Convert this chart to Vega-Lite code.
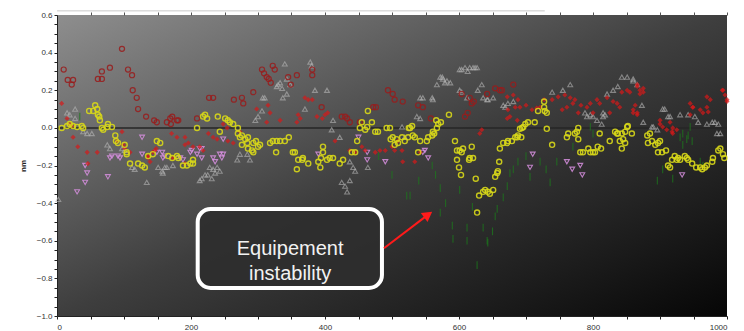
{
  "$schema": "https://vega.github.io/schema/vega-lite/v6.json",
  "width": 670,
  "height": 301,
  "autosize": "none",
  "padding": {"left": 57, "top": 15, "right": 17, "bottom": 15},
  "background": "white",
  "config": {
    "view": {
      "stroke": null,
      "fill": {"gradient": "linear", "x1": 0, "y1": 0, "x2": 1, "y2": 1,
        "stops": [{"offset": 0, "color": "#8e8e8e"}, {"offset": 0.5, "color": "#3e3e3e"}, {"offset": 1, "color": "#060606"}]}
    },
    "axis": {"labelFont": "Liberation Sans", "titleFont": "Liberation Sans", "labelFontSize": 8, "labelColor": "#333333", "grid": false, "domainColor": "#222222", "tickColor": "#222222", "tickSize": 3, "labelPadding": 2}
  },
  "datasets": {
    "one": [{}],
    "darkred": [
      {"x":10,"y":0.31},{"x":16,"y":0.255},{"x":24,"y":0.255},{"x":22,"y":0.23},{"x":97,"y":0.42},{"x":61,"y":0.26},{"x":67,"y":0.30},{"x":67,"y":0.26},{"x":79,"y":0.32},{"x":106,"y":0.31},{"x":112,"y":0.28},{"x":113,"y":0.2},{"x":119,"y":0.16},{"x":121,"y":0.10},{"x":133,"y":0.06},{"x":145,"y":0.04},{"x":149,"y":0.03},{"x":164,"y":0.03},{"x":169,"y":0.05},{"x":170,"y":0.02},{"x":181,"y":0.04},{"x":227,"y":0.16},{"x":233,"y":0.16},{"x":264,"y":0.15},{"x":276,"y":0.16},{"x":278,"y":0.13},{"x":209,"y":0.05},{"x":306,"y":0.31},{"x":309,"y":0.29},{"x":313,"y":0.27},{"x":316,"y":0.26},{"x":319,"y":0.24},{"x":322,"y":0.33},{"x":325,"y":0.31},{"x":293,"y":0.19},{"x":172,"y":0.06},{"x":179,"y":0.04},{"x":345,"y":0.27},{"x":358,"y":0.28},{"x":349,"y":0.23},{"x":381,"y":0.31},{"x":381,"y":0.28},{"x":430,"y":0.06},{"x":433,"y":0.05},{"x":494,"y":0.2},{"x":501,"y":0.18},{"x":504,"y":0.15},{"x":472,"y":0.11},{"x":476,"y":0.11},{"x":395,"y":0.11},{"x":425,"y":0.06},{"x":452,"y":0.03},{"x":437,"y":0.03},{"x":516,"y":0.14},{"x":539,"y":0.12},{"x":546,"y":0.11},{"x":558,"y":0.05},{"x":604,"y":0.18},{"x":616,"y":0.16},{"x":619,"y":0.13},{"x":622,"y":0.14},{"x":642,"y":0.18},{"x":654,"y":0.21},{"x":613,"y":0.08},{"x":609,"y":0.06},{"x":661,"y":0.2},{"x":681,"y":0.23},{"x":664,"y":0.2}
    ],
    "brightred": [
      {"x":7,"y":0.13},{"x":15,"y":0.05},{"x":19,"y":0.02},{"x":22,"y":0.01},{"x":24,"y":-0.05},{"x":31,"y":-0.1},{"x":45,"y":-0.13},{"x":60,"y":-0.13},{"x":97,"y":-0.02},{"x":101,"y":-0.11},{"x":109,"y":-0.13},{"x":136,"y":-0.15},{"x":143,"y":-0.13},{"x":148,"y":-0.11},{"x":171,"y":-0.03},{"x":179,"y":-0.05},{"x":191,"y":-0.05},{"x":196,"y":-0.08},{"x":203,"y":-0.1},{"x":213,"y":-0.1},{"x":226,"y":-0.03},{"x":233,"y":-0.05},{"x":239,"y":-0.06},{"x":248,"y":0.02},{"x":254,"y":0.0},{"x":255,"y":-0.07},{"x":263,"y":-0.08},{"x":273,"y":-0.02},{"x":46,"y":-0.19},{"x":90,"y":-0.07},{"x":99,"y":-0.09},{"x":136,"y":-0.16},{"x":139,"y":-0.18},{"x":146,"y":-0.12},{"x":298,"y":0.1},{"x":315,"y":0.12},{"x":318,"y":0.08},{"x":333,"y":0.04},{"x":313,"y":0.03},{"x":191,"y":-0.09},{"x":173,"y":-0.16},{"x":191,"y":-0.19},{"x":218,"y":-0.12},{"x":370,"y":0.16},{"x":375,"y":0.15},{"x":381,"y":0.15},{"x":360,"y":0.07},{"x":358,"y":0.03},{"x":363,"y":0.05},{"x":400,"y":0.07},{"x":404,"y":0.08},{"x":396,"y":0.05},{"x":388,"y":0.06},{"x":415,"y":-0.07},{"x":455,"y":-0.1},{"x":460,"y":-0.12},{"x":475,"y":-0.13},{"x":482,"y":-0.12},{"x":490,"y":-0.12},{"x":500,"y":-0.1},{"x":504,"y":-0.12},{"x":509,"y":-0.07},{"x":437,"y":-0.12},{"x":445,"y":-0.13},
      {"x":672,"y":0.165},{"x":681,"y":0.175},{"x":688,"y":0.15},{"x":673,"y":0.096},{"x":684,"y":0.11},{"x":691,"y":0.11},{"x":709,"y":0.096},{"x":716,"y":0.106},{"x":721,"y":0.11},{"x":739,"y":0.15},{"x":748,"y":0.165},{"x":758,"y":0.175},{"x":766,"y":0.16},{"x":773,"y":0.15},{"x":754,"y":0.096},{"x":761,"y":0.11},{"x":770,"y":0.13},{"x":791,"y":0.11},{"x":796,"y":0.13},{"x":806,"y":0.15},{"x":810,"y":0.13},{"x":821,"y":0.16},{"x":830,"y":0.14},{"x":836,"y":0.13},{"x":840,"y":0.11},{"x":843,"y":0.19},{"x":851,"y":0.2},{"x":855,"y":0.19},{"x":866,"y":0.22},{"x":870,"y":0.2},{"x":875,"y":0.19},{"x":860,"y":0.096},{"x":866,"y":0.08},{"x":900,"y":0.04},{"x":904,"y":0.005},{"x":910,"y":-0.01},{"x":919,"y":-0.03},{"x":925,"y":-0.01},{"x":945,"y":0.13},{"x":949,"y":0.11},{"x":960,"y":0.096},{"x":964,"y":0.08},{"x":970,"y":0.11},{"x":970,"y":0.165},{"x":975,"y":0.15},{"x":994,"y":0.2},{"x":997,"y":0.175},{"x":1000,"y":0.15},{"x":676,"y":0.06},{"x":687,"y":0.04},{"x":631,"y":-0.03},{"x":634,"y":-0.01},{"x":672,"y":0.05},{"x":515,"y":-0.12},{"x":516,"y":-0.18},{"x":534,"y":-0.18},{"x":542,"y":-0.13},{"x":866,"y":0.23},{"x":875,"y":0.21},{"x":870,"y":0.18},{"x":863,"y":0.12},{"x":866,"y":0.07},{"x":860,"y":0.08},{"x":900,"y":0.02},{"x":918,"y":-0.02},{"x":919,"y":0.0},{"x":915,"y":0.03},{"x":972,"y":0.085},{"x":993,"y":0.2},{"x":1000,"y":0.14},{"x":949,"y":0.11},{"x":945,"y":0.07},{"x":700,"y":0.12},{"x":727,"y":0.15},{"x":782,"y":0.12},{"x":800,"y":0.08},{"x":825,"y":0.08},{"x":778,"y":0.08}
    ],
    "yellow": [
      {"x":7,"y":0},{"x":15,"y":0.01},{"x":19,"y":0.02},{"x":24,"y":0.01},{"x":30,"y":0.005},{"x":37,"y":0.01},{"x":39,"y":0},{"x":48,"y":0.09},{"x":54,"y":0.09},{"x":57,"y":0.12},{"x":60,"y":0.1},{"x":61,"y":0.07},{"x":63,"y":0.06},{"x":64,"y":0.04},{"x":67,"y":0},{"x":69,"y":-0.01},{"x":75,"y":0.005},{"x":76,"y":0.02},{"x":82,"y":0.005},{"x":87,"y":-0.04},{"x":88,"y":-0.07},{"x":91,"y":-0.08},{"x":101,"y":-0.09},{"x":104,"y":-0.13},{"x":104,"y":-0.14},{"x":149,"y":-0.07},{"x":154,"y":-0.08},{"x":109,"y":-0.19},{"x":121,"y":-0.19},{"x":127,"y":-0.2},{"x":131,"y":-0.21},{"x":136,"y":-0.15},{"x":143,"y":-0.14},{"x":166,"y":-0.15},{"x":172,"y":-0.16},{"x":179,"y":-0.15},{"x":181,"y":-0.16},{"x":188,"y":-0.2},{"x":194,"y":-0.2},{"x":199,"y":-0.19},{"x":203,"y":-0.17},{"x":203,"y":-0.19},{"x":209,"y":0},{"x":218,"y":0.06},{"x":224,"y":0.05},{"x":221,"y":0.07},{"x":240,"y":0.06},{"x":251,"y":0.05},{"x":255,"y":0.04},{"x":258,"y":0.03},{"x":263,"y":0.02},{"x":270,"y":0},{"x":273,"y":-0.05},{"x":276,"y":-0.04},{"x":281,"y":-0.06},{"x":284,"y":-0.08},{"x":285,"y":-0.05},{"x":270,"y":-0.03},{"x":243,"y":-0.02},{"x":276,"y":-0.09},{"x":285,"y":-0.11},{"x":291,"y":-0.12},{"x":293,"y":-0.08},{"x":297,"y":-0.07},{"x":300,"y":-0.1},{"x":303,"y":-0.09},{"x":293,"y":-0.13},{"x":318,"y":-0.08},{"x":322,"y":-0.07},{"x":328,"y":-0.07},{"x":333,"y":-0.07},{"x":340,"y":-0.07},{"x":327,"y":-0.13},{"x":346,"y":-0.05},{"x":352,"y":-0.13},{"x":355,"y":-0.13},{"x":360,"y":-0.17},{"x":366,"y":-0.17},{"x":367,"y":-0.16},{"x":375,"y":-0.19},{"x":358,"y":-0.22},{"x":390,"y":-0.18},{"x":393,"y":-0.21},{"x":394,"y":-0.16},{"x":397,"y":-0.13},{"x":397,"y":-0.1},{"x":403,"y":-0.17},{"x":407,"y":-0.16},{"x":412,"y":-0.16},{"x":422,"y":-0.19},{"x":427,"y":-0.17},{"x":440,"y":-0.13},{"x":445,"y":-0.13},{"x":448,"y":-0.07},{"x":464,"y":0.09},{"x":470,"y":0.03},{"x":455,"y":0.03},{"x":460,"y":-0.01},{"x":452,"y":0},{"x":463,"y":0.005},{"x":475,"y":-0.02},{"x":479,"y":-0.02},{"x":492,"y":0},{"x":497,"y":0},{"x":501,"y":-0.05},{"x":507,"y":-0.06},{"x":509,"y":-0.08},{"x":504,"y":-0.09},{"x":498,"y":-0.06},{"x":515,"y":-0.05},{"x":519,"y":-0.07},{"x":524,"y":-0.05},{"x":525,"y":0},{"x":527,"y":0},{"x":530,"y":0.01},{"x":531,"y":-0.04},{"x":534,"y":-0.05},{"x":542,"y":-0.07},{"x":539,"y":-0.13},{"x":552,"y":-0.07},{"x":554,"y":-0.05},{"x":560,"y":-0.04},{"x":561,"y":-0.02},{"x":563,"y":-0.03},{"x":566,"y":0.04},{"x":567,"y":0},{"x":569,"y":0.02},{"x":573,"y":0.03},{"x":585,"y":0.07},{"x":594,"y":-0.07},{"x":597,"y":-0.12},{"x":601,"y":-0.12},{"x":604,"y":-0.13},{"x":606,"y":-0.11},{"x":597,"y":-0.17},{"x":600,"y":-0.21},{"x":603,"y":-0.25},{"x":615,"y":-0.17},{"x":616,"y":-0.16},{"x":621,"y":-0.16},{"x":619,"y":-0.1},{"x":625,"y":-0.27},{"x":627,"y":-0.45},{"x":630,"y":-0.36},{"x":636,"y":-0.34},{"x":646,"y":-0.35},{"x":651,"y":-0.33},{"x":639,"y":-0.33},{"x":643,"y":-0.34},{"x":654,"y":-0.26},{"x":657,"y":-0.24},{"x":658,"y":-0.23},{"x":660,"y":-0.18},{"x":661,"y":-0.11},{"x":666,"y":-0.08},{"x":672,"y":-0.08},{"x":673,"y":-0.07},{"x":679,"y":-0.07},{"x":684,"y":-0.05},{"x":687,"y":-0.05},{"x":688,"y":-0.04},{"x":691,"y":-0.005},{"x":693,"y":-0.05},{"x":694,"y":0},{"x":696,"y":0.005},{"x":699,"y":0.02},{"x":703,"y":0.03},{"x":713,"y":0.03},{"x":718,"y":0.09},{"x":727,"y":0.11},{"x":728,"y":0.09},{"x":731,"y":0.08},{"x":727,"y":0.14},{"x":731,"y":-0.005},{"x":739,"y":-0.09},{"x":761,"y":-0.05},{"x":763,"y":-0.03},{"x":773,"y":-0.03},{"x":776,"y":-0.02},{"x":778,"y":0},{"x":778,"y":-0.06},{"x":781,"y":-0.13},{"x":785,"y":-0.13},{"x":793,"y":-0.11},{"x":796,"y":-0.13},{"x":800,"y":-0.13},{"x":803,"y":-0.13},{"x":807,"y":-0.1},{"x":812,"y":-0.11},{"x":810,"y":-0.03},{"x":825,"y":-0.07},{"x":833,"y":-0.02},{"x":836,"y":-0.03},{"x":837,"y":-0.03},{"x":843,"y":-0.03},{"x":848,"y":-0.02},{"x":851,"y":0.005},{"x":852,"y":0.01},{"x":840,"y":-0.07},{"x":845,"y":-0.06},{"x":843,"y":-0.11},{"x":848,"y":-0.08},{"x":858,"y":-0.03},{"x":881,"y":-0.04},{"x":885,"y":-0.03},{"x":882,"y":-0.08},{"x":888,"y":-0.07},{"x":893,"y":-0.09},{"x":897,"y":-0.08},{"x":900,"y":-0.07},{"x":897,"y":-0.13},{"x":903,"y":-0.13},{"x":909,"y":-0.12},{"x":912,"y":-0.2},{"x":915,"y":-0.21},{"x":918,"y":-0.17},{"x":922,"y":-0.15},{"x":925,"y":-0.17},{"x":927,"y":-0.16},{"x":930,"y":-0.17},{"x":937,"y":-0.15},{"x":940,"y":-0.16},{"x":942,"y":-0.17},{"x":948,"y":-0.19},{"x":954,"y":-0.21},{"x":960,"y":-0.21},{"x":963,"y":-0.22},{"x":967,"y":-0.21},{"x":970,"y":-0.2},{"x":978,"y":-0.18},{"x":979,"y":-0.16},{"x":987,"y":-0.12},{"x":990,"y":-0.11},{"x":994,"y":-0.14},{"x":996,"y":-0.16}
    ],
    "gray": [
      {"x":15,"y":0.08},{"x":27,"y":0.1},{"x":19,"y":0.07},{"x":27,"y":0.05},{"x":39,"y":-0.02},{"x":45,"y":-0.03},{"x":52,"y":-0.03},{"x":75,"y":-0.09},{"x":79,"y":-0.11},{"x":97,"y":-0.11},{"x":101,"y":-0.12},{"x":112,"y":-0.21},{"x":134,"y":-0.29},{"x":151,"y":-0.21},{"x":157,"y":-0.23},{"x":161,"y":-0.21},{"x":2,"y":-0.38},{"x":116,"y":-0.22},{"x":158,"y":-0.24},{"x":164,"y":-0.21},{"x":173,"y":-0.2},{"x":213,"y":-0.28},{"x":225,"y":-0.25},{"x":233,"y":-0.22},{"x":243,"y":-0.23},{"x":239,"y":-0.21},{"x":228,"y":-0.21},{"x":236,"y":-0.24},{"x":216,"y":-0.27},{"x":221,"y":-0.25},{"x":231,"y":-0.27},{"x":269,"y":-0.17},{"x":273,"y":-0.14},{"x":284,"y":-0.14},{"x":288,"y":-0.17},{"x":296,"y":0.04},{"x":300,"y":0.06},{"x":306,"y":0.09},{"x":310,"y":0.16},{"x":333,"y":0.24},{"x":328,"y":0.22},{"x":330,"y":0.23},{"x":336,"y":0.21},{"x":343,"y":0.26},{"x":348,"y":0.23},{"x":337,"y":0.16},{"x":343,"y":0.18},{"x":340,"y":0.34},{"x":307,"y":0.16},{"x":385,"y":0.2},{"x":403,"y":0.2},{"x":378,"y":0.35},{"x":380,"y":0.33},{"x":370,"y":0.1},{"x":412,"y":0.04},{"x":410,"y":-0.01},{"x":422,"y":-0.05},{"x":425,"y":-0.29},{"x":430,"y":-0.31},{"x":433,"y":-0.34},{"x":437,"y":-0.28},{"x":442,"y":-0.21},{"x":445,"y":-0.23},{"x":464,"y":-0.21},{"x":437,"y":-0.18},{"x":519,"y":-0.05},{"x":515,"y":0.005},{"x":542,"y":0.16},{"x":546,"y":0.16},{"x":560,"y":0.16},{"x":561,"y":0.15},{"x":537,"y":0.06},{"x":542,"y":0.05},{"x":567,"y":0.23},{"x":572,"y":0.27},{"x":575,"y":0.27},{"x":576,"y":0.26},{"x":579,"y":0.24},{"x":582,"y":0.25},{"x":587,"y":0.24},{"x":601,"y":0.2},{"x":604,"y":0.19},{"x":612,"y":0.16},{"x":601,"y":0.31},{"x":604,"y":0.31},{"x":609,"y":0.32},{"x":613,"y":0.3},{"x":616,"y":0.32},{"x":621,"y":0.32},{"x":624,"y":0.32},{"x":627,"y":0.32},{"x":628,"y":0.2},{"x":634,"y":0.23},{"x":636,"y":0.16},{"x":642,"y":0.15},{"x":643,"y":0.15},{"x":651,"y":0.16},{"x":666,"y":0.12},{"x":669,"y":0.11},{"x":673,"y":0.13},{"x":681,"y":0.14},{"x":739,"y":0.19},{"x":755,"y":0.2},{"x":766,"y":0.23},{"x":788,"y":0.08},{"x":791,"y":0.06},{"x":796,"y":0.07},{"x":800,"y":0.06},{"x":806,"y":0.04},{"x":813,"y":0.02},{"x":815,"y":0.08},{"x":818,"y":0.07},{"x":815,"y":0.06},{"x":821,"y":0.18},{"x":830,"y":0.2},{"x":837,"y":0.22},{"x":843,"y":0.27},{"x":851,"y":0.27},{"x":860,"y":0.26},{"x":866,"y":0.23},{"x":873,"y":0.12},{"x":875,"y":0.03},{"x":888,"y":0.005},{"x":896,"y":-0.01},{"x":890,"y":0.005},{"x":904,"y":0.1},{"x":907,"y":0.1},{"x":912,"y":0.06},{"x":915,"y":0.06},{"x":930,"y":0.07},{"x":942,"y":0.07},{"x":952,"y":0.06},{"x":957,"y":0.03},{"x":970,"y":0.02},{"x":978,"y":0.03},{"x":982,"y":0.03},{"x":985,"y":-0.03},{"x":990,"y":-0.03},{"x":987,"y":0.02},{"x":860,"y":0.25}
    ],
    "pink": [
      {"x":42,"y":-0.2},{"x":45,"y":-0.24},{"x":42,"y":-0.29},{"x":30,"y":-0.34},{"x":76,"y":-0.26},{"x":82,"y":-0.15},{"x":91,"y":-0.15},{"x":79,"y":-0.16},{"x":94,"y":-0.16},{"x":127,"y":-0.14},{"x":127,"y":-0.05},{"x":158,"y":-0.16},{"x":161,"y":-0.15},{"x":157,"y":-0.13},{"x":149,"y":-0.13},{"x":184,"y":-0.16},{"x":188,"y":-0.17},{"x":199,"y":-0.13},{"x":201,"y":-0.12},{"x":213,"y":-0.11},{"x":216,"y":-0.11},{"x":209,"y":-0.14},{"x":216,"y":-0.16},{"x":233,"y":-0.16},{"x":236,"y":-0.18},{"x":243,"y":-0.14},{"x":246,"y":-0.16},{"x":248,"y":-0.14},{"x":248,"y":-0.06},{"x":390,"y":-0.14},{"x":463,"y":-0.13},{"x":463,"y":-0.17},{"x":490,"y":-0.18},{"x":450,"y":-0.05},{"x":546,"y":-0.13},{"x":549,"y":-0.12},{"x":554,"y":-0.16},{"x":710,"y":-0.14},{"x":706,"y":-0.21},{"x":761,"y":-0.18},{"x":769,"y":-0.22},{"x":781,"y":-0.2},{"x":784,"y":-0.25},{"x":933,"y":-0.25}
    ],
    "green": [
      {"x":34,"y":0.06},{"x":527,"y":-0.36},{"x":522,"y":-0.36},{"x":572,"y":-0.32},{"x":572,"y":-0.45},{"x":590,"y":-0.52},{"x":591,"y":-0.59},{"x":601,"y":-0.33},{"x":612,"y":-0.53},{"x":612,"y":-0.6},{"x":627,"y":-0.73},{"x":636,"y":-0.53},{"x":642,"y":-0.6},{"x":643,"y":-0.61},{"x":654,"y":-0.47},{"x":657,"y":-0.43},{"x":666,"y":-0.37},{"x":672,"y":-0.31},{"x":676,"y":-0.24},{"x":681,"y":-0.22},{"x":688,"y":-0.18},{"x":706,"y":-0.26},{"x":721,"y":-0.18},{"x":736,"y":-0.29},{"x":746,"y":-0.18},{"x":796,"y":0.005},{"x":800,"y":-0.03},{"x":896,"y":-0.28},{"x":904,"y":-0.22},{"x":919,"y":-0.27},{"x":930,"y":-0.05},{"x":934,"y":-0.09},{"x":942,"y":-0.04},{"x":948,"y":-0.07},{"x":960,"y":-0.18},{"x":964,"y":-0.2},{"x":934,"y":-0.03},{"x":940,"y":-0.06},{"x":945,"y":0.005},{"x":560,"y":-0.2},{"x":565,"y":-0.25},{"x":580,"y":-0.4},{"x":620,"y":-0.42},{"x":650,"y":-0.55},{"x":700,"y":-0.15},{"x":730,"y":-0.22},{"x":770,"y":-0.1},{"x":480,"y":-0.15},{"x":500,"y":-0.25},{"x":540,"y":-0.28}
    ]
  },
  "resolve": {"axis": {"x": "independent", "y": "independent"}},
  "layer": [
    {
      "data": {"name": "one"},
      "mark": {"type": "rule", "color": "#262626", "strokeWidth": 1.5},
      "encoding": {
        "y": {"datum": 0, "type": "quantitative", "scale": {"domain": [-1, 0.6], "nice": false, "zero": false}, "axis": null}
      }
    },
    {
      "data": {"name": "one"},
      "mark": {"type": "rule", "color": "#c8c8c8", "strokeWidth": 1, "clip": false},
      "encoding": {
        "x": {"datum": 0, "type": "quantitative", "scale": {"domain": [0, 1000], "nice": false}, "axis": {"orient": "top", "title": null, "labels": false, "domain": false, "tickColor": "#555", "tickSize": 3, "values": [50,100,150,200,250,300,350,400,450,500,550,600,650,700,750,800,850,900,950,1000]}},
        "x2": {"datum": 728},
        "y": {"datum": 0.622, "type": "quantitative", "axis": null}
      }
    },
    {
      "data": {"name": "gray"},
      "mark": {"type": "point", "shape": "triangle-up", "filled": false, "stroke": "#b8b8b8", "strokeWidth": 1.1, "size": 24, "opacity": 0.6},
      "encoding": {
        "x": {"field": "x", "type": "quantitative", "axis": {"orient": "bottom", "title": null, "values": [0,50,100,150,200,250,300,350,400,450,500,550,600,650,700,750,800,850,900,950,1000], "format": "d", "labelExpr": "datum.value % 200 == 0 ? datum.label : ''", "labelPadding": 4}},
        "y": {"field": "y", "type": "quantitative",
          "axis": {"orient": "left", "title": "nm", "titleFontSize": 8, "titleFontWeight": "bold", "titleColor": "#222", "titlePadding": 9,
            "values": [-1,-0.95,-0.9,-0.85,-0.8,-0.75,-0.7,-0.65,-0.6,-0.55,-0.5,-0.45,-0.4,-0.35,-0.3,-0.25,-0.2,-0.15,-0.1,-0.05,0,0.05,0.1,0.15,0.2,0.25,0.3,0.35,0.4,0.45,0.5,0.55,0.6],
            "labelExpr": "abs(round(datum.value*20)) % 4 == 0 ? format(datum.value, '.1f') : ''"}}
      }
    },
    {
      "data": {"name": "green"},
      "mark": {"type": "point", "shape": "M0,-1L0,1", "filled": false, "stroke": "#1c7a1c", "strokeWidth": 1.1, "size": 60, "opacity": 0.75},
      "encoding": {
        "x": {"field": "x", "type": "quantitative", "axis": null},
        "y": {"field": "y", "type": "quantitative", "axis": null}
      }
    },
    {
      "data": {"name": "pink"},
      "mark": {"type": "point", "shape": "triangle-down", "filled": false, "stroke": "#d890e0", "strokeWidth": 1.1, "size": 24, "opacity": 0.85},
      "encoding": {
        "x": {"field": "x", "type": "quantitative", "axis": null},
        "y": {"field": "y", "type": "quantitative", "axis": null}
      }
    },
    {
      "data": {"name": "darkred"},
      "mark": {"type": "point", "shape": "circle", "filled": false, "stroke": "#9a1c1c", "strokeWidth": 1.2, "size": 26, "opacity": 0.85},
      "encoding": {
        "x": {"field": "x", "type": "quantitative", "axis": null},
        "y": {"field": "y", "type": "quantitative", "axis": null}
      }
    },
    {
      "data": {"name": "brightred"},
      "mark": {"type": "point", "shape": "diamond", "filled": true, "fill": "#d81818", "size": 26, "opacity": 0.7},
      "encoding": {
        "x": {"field": "x", "type": "quantitative", "axis": null},
        "y": {"field": "y", "type": "quantitative", "axis": null}
      }
    },
    {
      "data": {"name": "yellow"},
      "mark": {"type": "point", "shape": "circle", "filled": false, "stroke": "#d8d81a", "strokeWidth": 1.4, "size": 26, "opacity": 0.9},
      "encoding": {
        "x": {"field": "x", "type": "quantitative", "axis": null},
        "y": {"field": "y", "type": "quantitative", "axis": null}
      }
    },
    {
      "data": {"name": "one"},
      "mark": {"type": "rect", "cornerRadius": 13, "fill": "#2e2e2e", "fillOpacity": 0.9, "stroke": "white", "strokeWidth": 4},
      "encoding": {
        "x": {"datum": 210, "type": "quantitative", "axis": null},
        "x2": {"datum": 485},
        "y": {"datum": -0.431, "type": "quantitative", "axis": null},
        "y2": {"datum": -0.851}
      }
    },
    {
      "data": {"name": "one"},
      "mark": {"type": "text", "text": ["Equipement", "instability"], "font": "Liberation Sans", "fontSize": 20, "lineHeight": 25, "color": "#f2f2f2", "align": "center", "baseline": "middle"},
      "encoding": {
        "x": {"datum": 348, "type": "quantitative", "axis": null},
        "y": {"datum": -0.646, "type": "quantitative", "axis": null}
      }
    },
    {
      "data": {"name": "one"},
      "mark": {"type": "rule", "color": "#ff1a1a", "strokeWidth": 2},
      "encoding": {
        "x": {"datum": 488, "type": "quantitative", "axis": null},
        "x2": {"datum": 550},
        "y": {"datum": -0.64, "type": "quantitative", "axis": null},
        "y2": {"datum": -0.472}
      }
    },
    {
      "data": {"name": "one"},
      "mark": {"type": "point", "shape": "triangle-up", "filled": true, "fill": "#ff1a1a", "opacity": 1, "size": 130, "angle": 54},
      "encoding": {
        "x": {"datum": 554, "type": "quantitative", "axis": null},
        "y": {"datum": -0.461, "type": "quantitative", "axis": null}
      }
    }
  ]
}
